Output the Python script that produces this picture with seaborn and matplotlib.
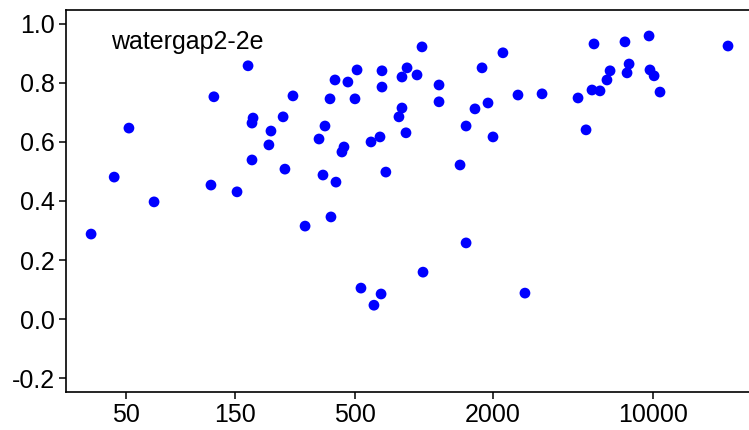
import matplotlib
matplotlib.use("Agg")
import matplotlib.pyplot as plt
import seaborn as sns
import pandas as pd

x_values = [35.2, 44.4, 51.5, 66.3, 121, 117.5, 152.7, 170.6, 179.4, 177.5,
            177.5, 214.8, 210.4, 242.7, 247.2, 268, 302.7, 348.3, 362.4, 369.8,
            389, 392.7, 409, 413, 438.5, 447.7, 465.6, 500, 510.5, 531,
            587.5, 605, 643, 650, 656, 656, 682, 778, 802, 802,
            835, 844, 933, 981, 991, 1164, 1164, 1438, 1528, 1528,
            1671, 1794, 1905, 2003, 2213, 2575, 2762, 3280, 4710, 5105,
            5420, 5530, 5875, 6300, 6500, 7550, 7710, 7870, 9620, 9710,
            10120, 10740, 21280]
y_values = [0.288, 0.481, 0.647, 0.397, 0.753, 0.454, 0.431, 0.858, 0.681, 0.664,
            0.539, 0.637, 0.590, 0.685, 0.508, 0.756, 0.315, 0.610, 0.488, 0.654,
            0.746, 0.346, 0.810, 0.464, 0.566, 0.583, 0.803, 0.746, 0.844, 0.105,
            0.600, 0.047, 0.617, 0.085, 0.841, 0.786, 0.498, 0.685, 0.715, 0.820,
            0.631, 0.851, 0.827, 0.922, 0.159, 0.793, 0.736, 0.522, 0.654, 0.258,
            0.712, 0.851, 0.732, 0.617, 0.902, 0.759, 0.088, 0.763, 0.749, 0.641,
            0.776, 0.932, 0.773, 0.810, 0.841, 0.939, 0.834, 0.864, 0.959, 0.844,
            0.824, 0.769, 0.925]
x_ticks = [50, 150, 500, 2000, 10000]
x_tick_labels = ["50", "150", "500", "2000", "10000"]
y_ticks = [-0.2, 0.0, 0.2, 0.4, 0.6, 0.8, 1.0]
y_tick_labels = ["-0.2", "0.0", "0.2", "0.4", "0.6", "0.8", "1.0"]
label = "watergap2-2e"

df = pd.DataFrame({"x": x_values, "y": y_values})

sns.set_style("ticks")
plt.rcParams["font.family"] = ["Liberation Sans", "DejaVu Sans"]

fig = plt.figure(figsize=(7.49, 4.30), dpi=100)
ax = fig.add_axes([66/749, 38/430, 683/749, 382/430])

sns.scatterplot(data=df, x="x", y="y", ax=ax, color="#0000ff", s=60,
                edgecolor="none", linewidth=0)

ax.set_xscale("log")
ax.set_xlim(27.35, 26280)
ax.set_ylim(-0.247, 1.047)
ax.set_xticks(x_ticks)
ax.set_xticklabels(x_tick_labels)
ax.xaxis.set_minor_locator(matplotlib.ticker.NullLocator())
ax.set_yticks(y_ticks)
ax.set_yticklabels(y_tick_labels)
ax.set_xlabel("")
ax.set_ylabel("")

for side in ["left", "bottom", "top"]:
    ax.spines[side].set_visible(True)
    ax.spines[side].set_color("black")
    ax.spines[side].set_linewidth(1.2)
ax.spines["right"].set_visible(False)

ax.tick_params(axis="both", labelsize=18, length=5, width=1.1, color="black",
               labelcolor="black", pad=3, direction="out")

ax.text(0.066, 0.916, label, transform=ax.transAxes, fontsize=18,
        ha="left", va="center", color="black")

fig.savefig("out.png", dpi=100)
